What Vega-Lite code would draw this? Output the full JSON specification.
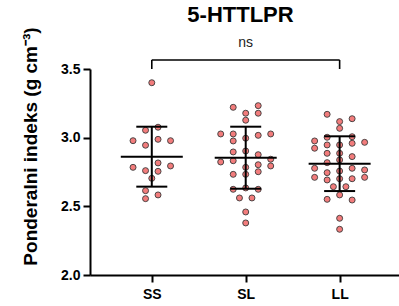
{
  "$schema": "https://vega.github.io/schema/vega-lite/v6.json",
  "width": 309,
  "height": 206,
  "autosize": {"type": "none"},
  "padding": {"left": 90, "top": 69, "right": 0, "bottom": 31},
  "background": "white",
  "title": {"text": "5-HTTLPR", "frame": "group", "anchor": "middle", "offset": 0, "dx": -4, "font": "Liberation Sans", "fontSize": 22, "fontWeight": "bold", "color": "black"},
  "config": {
    "view": {"stroke": null},
    "axis": {"grid": false, "domainColor": "black", "domainWidth": 2, "tickColor": "black", "tickWidth": 2, "tickSize": 7, "labelColor": "black", "labelFont": "Liberation Sans", "labelFontWeight": "bold", "labelFontSize": 14, "titleColor": "black", "titleFont": "Liberation Sans", "titleFontWeight": "bold"}
  },
  "datasets": {
    "pts": [
      {"genotype": "SS", "pi": 3.40, "slot": 0},
      {"genotype": "SS", "pi": 3.076, "slot": 1},
      {"genotype": "SS", "pi": 3.054, "slot": -1},
      {"genotype": "SS", "pi": 2.978, "slot": -3},
      {"genotype": "SS", "pi": 2.988, "slot": 1},
      {"genotype": "SS", "pi": 2.978, "slot": 3},
      {"genotype": "SS", "pi": 2.945, "slot": -1},
      {"genotype": "SS", "pi": 2.784, "slot": -3},
      {"genotype": "SS", "pi": 2.816, "slot": 1},
      {"genotype": "SS", "pi": 2.794, "slot": 3},
      {"genotype": "SS", "pi": 2.760, "slot": -1},
      {"genotype": "SS", "pi": 2.755, "slot": 1},
      {"genotype": "SS", "pi": 2.704, "slot": 0},
      {"genotype": "SS", "pi": 2.614, "slot": -1},
      {"genotype": "SS", "pi": 2.556, "slot": -1},
      {"genotype": "SS", "pi": 2.583, "slot": 1},
      {"genotype": "SL", "pi": 3.221, "slot": -2},
      {"genotype": "SL", "pi": 3.233, "slot": 2},
      {"genotype": "SL", "pi": 3.178, "slot": 0},
      {"genotype": "SL", "pi": 3.178, "slot": 2},
      {"genotype": "SL", "pi": 3.127, "slot": 0},
      {"genotype": "SL", "pi": 3.027, "slot": -4},
      {"genotype": "SL", "pi": 3.027, "slot": -2},
      {"genotype": "SL", "pi": 3.017, "slot": 2},
      {"genotype": "SL", "pi": 3.027, "slot": 4},
      {"genotype": "SL", "pi": 2.996, "slot": 0},
      {"genotype": "SL", "pi": 2.976, "slot": -2},
      {"genotype": "SL", "pi": 2.896, "slot": -2},
      {"genotype": "SL", "pi": 2.903, "slot": 0},
      {"genotype": "SL", "pi": 2.876, "slot": 2},
      {"genotype": "SL", "pi": 2.823, "slot": -4},
      {"genotype": "SL", "pi": 2.832, "slot": -2},
      {"genotype": "SL", "pi": 2.843, "slot": 4},
      {"genotype": "SL", "pi": 2.794, "slot": 4},
      {"genotype": "SL", "pi": 2.803, "slot": 2},
      {"genotype": "SL", "pi": 2.784, "slot": 0},
      {"genotype": "SL", "pi": 2.752, "slot": 2},
      {"genotype": "SL", "pi": 2.733, "slot": -2},
      {"genotype": "SL", "pi": 2.733, "slot": 0},
      {"genotype": "SL", "pi": 2.624, "slot": -2},
      {"genotype": "SL", "pi": 2.634, "slot": 0},
      {"genotype": "SL", "pi": 2.624, "slot": 2},
      {"genotype": "SL", "pi": 2.561, "slot": -1},
      {"genotype": "SL", "pi": 2.561, "slot": 1},
      {"genotype": "SL", "pi": 2.459, "slot": 0},
      {"genotype": "SL", "pi": 2.379, "slot": 0},
      {"genotype": "LL", "pi": 3.170, "slot": -2},
      {"genotype": "LL", "pi": 3.138, "slot": 2},
      {"genotype": "LL", "pi": 3.117, "slot": 0},
      {"genotype": "LL", "pi": 3.068, "slot": 0},
      {"genotype": "LL", "pi": 3.003, "slot": -2},
      {"genotype": "LL", "pi": 3.007, "slot": 2},
      {"genotype": "LL", "pi": 2.976, "slot": -4},
      {"genotype": "LL", "pi": 2.966, "slot": 4},
      {"genotype": "LL", "pi": 2.923, "slot": -4},
      {"genotype": "LL", "pi": 2.947, "slot": -2},
      {"genotype": "LL", "pi": 2.947, "slot": 0},
      {"genotype": "LL", "pi": 2.959, "slot": 2},
      {"genotype": "LL", "pi": 2.886, "slot": 0},
      {"genotype": "LL", "pi": 2.886, "slot": -2},
      {"genotype": "LL", "pi": 2.862, "slot": 2},
      {"genotype": "LL", "pi": 2.838, "slot": 0},
      {"genotype": "LL", "pi": 2.818, "slot": -2},
      {"genotype": "LL", "pi": 2.777, "slot": -4},
      {"genotype": "LL", "pi": 2.777, "slot": 2},
      {"genotype": "LL", "pi": 2.765, "slot": 4},
      {"genotype": "LL", "pi": 2.757, "slot": 0},
      {"genotype": "LL", "pi": 2.745, "slot": -2},
      {"genotype": "LL", "pi": 2.711, "slot": -4},
      {"genotype": "LL", "pi": 2.711, "slot": 4},
      {"genotype": "LL", "pi": 2.692, "slot": -2},
      {"genotype": "LL", "pi": 2.701, "slot": 0},
      {"genotype": "LL", "pi": 2.701, "slot": 2},
      {"genotype": "LL", "pi": 2.643, "slot": -1},
      {"genotype": "LL", "pi": 2.643, "slot": 1},
      {"genotype": "LL", "pi": 2.583, "slot": 0},
      {"genotype": "LL", "pi": 2.551, "slot": -2},
      {"genotype": "LL", "pi": 2.546, "slot": 2},
      {"genotype": "LL", "pi": 2.413, "slot": 0},
      {"genotype": "LL", "pi": 2.333, "slot": 0}
    ],
    "bracket": [
      {"from": "SS", "to": "LL", "level": 3.566, "base": 3.5, "label": "ns", "mid": "SL"}
    ]
  },
  "encoding": {
    "x": {"field": "genotype", "type": "nominal", "scale": {"type": "point", "domain": ["SS", "SL", "LL"], "padding": 0.645, "align": 0.51},
      "axis": {"title": null, "labelAngle": 0, "labelPadding": 5}}
  },
  "layer": [
    {
      "data": {"name": "pts"},
      "mark": {"type": "point", "shape": "circle", "filled": true, "size": 36, "fill": "#F27C7C", "stroke": "#3a3a3a", "strokeWidth": 0.9, "opacity": 1},
      "encoding": {
        "y": {"field": "pi", "type": "quantitative", "scale": {"domain": [2, 3.5], "nice": false, "zero": false},
          "axis": {"values": [2, 2.5, 3, 3.5], "format": ".1f", "labelPadding": 3, "title": "Ponderalni indeks (g cm⁻³)", "titleFontSize": 19, "titleX": -54, "titleY": 77, "titleBaseline": "alphabetic", "titleAngle": -90, "titleAlign": "center"}},
        "xOffset": {"field": "slot", "type": "ordinal", "scale": {"type": "point", "domain": [-4, -3, -2, -1, 0, 1, 2, 3, 4], "range": [-25, 25], "padding": 0}}
      }
    },
    {
      "data": {"name": "pts"},
      "transform": [{"aggregate": [{"op": "mean", "field": "pi", "as": "m"}], "groupby": ["genotype"]}],
      "mark": {"type": "tick", "size": 62, "thickness": 2, "color": "black", "opacity": 1},
      "encoding": {"y": {"field": "m", "type": "quantitative"}}
    },
    {
      "data": {"name": "pts"},
      "transform": [
        {"aggregate": [{"op": "mean", "field": "pi", "as": "m"}, {"op": "stdev", "field": "pi", "as": "s"}], "groupby": ["genotype"]},
        {"calculate": "datum.m - datum.s", "as": "lo"},
        {"calculate": "datum.m + datum.s", "as": "hi"}
      ],
      "layer": [
        {"mark": {"type": "rule", "strokeWidth": 2, "color": "black"}, "encoding": {"y": {"field": "lo", "type": "quantitative"}, "y2": {"field": "hi"}}},
        {"mark": {"type": "tick", "size": 31, "thickness": 2, "color": "black", "opacity": 1}, "encoding": {"y": {"field": "lo", "type": "quantitative"}}},
        {"mark": {"type": "tick", "size": 31, "thickness": 2, "color": "black", "opacity": 1}, "encoding": {"y": {"field": "hi", "type": "quantitative"}}}
      ]
    },
    {
      "data": {"name": "bracket"},
      "layer": [
        {"mark": {"type": "rule", "strokeWidth": 1.6, "color": "black", "clip": false}, "encoding": {"x": {"field": "from", "type": "nominal"}, "x2": {"field": "to"}, "y": {"field": "level", "type": "quantitative"}}},
        {"mark": {"type": "rule", "strokeWidth": 1.6, "color": "black", "clip": false}, "encoding": {"x": {"field": "from", "type": "nominal"}, "y": {"field": "level", "type": "quantitative"}, "y2": {"field": "base"}}},
        {"mark": {"type": "rule", "strokeWidth": 1.6, "color": "black", "clip": false}, "encoding": {"x": {"field": "to", "type": "nominal"}, "y": {"field": "level", "type": "quantitative"}, "y2": {"field": "base"}}},
        {"mark": {"type": "text", "font": "Liberation Sans", "fontSize": 14, "color": "#222", "baseline": "middle", "dy": -17, "clip": false}, "encoding": {"x": {"field": "mid", "type": "nominal"}, "y": {"field": "level", "type": "quantitative"}, "text": {"field": "label"}}}
      ]
    }
  ]
}
